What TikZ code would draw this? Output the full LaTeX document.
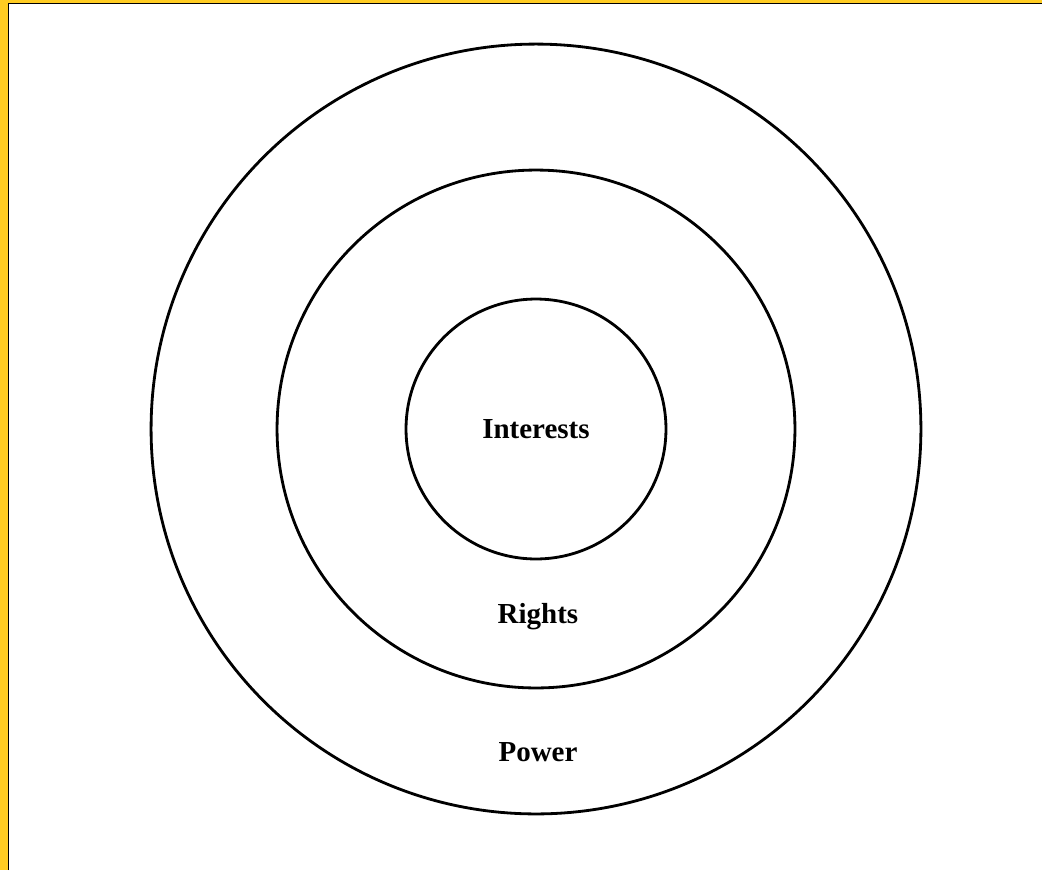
\documentclass[tikz,border=0pt]{standalone}
\usepackage{fontspec}
\setmainfont{Liberation Serif}
\usepackage{tikz}
\usetikzlibrary{positioning}
\usepackage{xcolor}
\definecolor{framegold}{HTML}{FFCC22}

\begin{document}
\begin{tikzpicture}[
        x=0.02cm, y=-0.02cm,
        ring/.style={
            circle,
            draw,
            line width=1.6pt,
            inner sep=0pt
        },
        label/.style={
            font=\fontsize{16.5}{18}\selectfont\bfseries
        }
    ]

        % Rama
        \useasboundingbox (0,0) rectangle (1042,870);
        \fill[framegold] (0,0) rectangle (8,870);
        \fill[framegold] (0,0) rectangle (1042,3);
        \draw[line width=0.6pt] (8.5,870) -- (8.5,3.5) -- (1042,3.5);

        % Koła
        \coordinate (centre) at (536,429);
        \node[ring, minimum size=15.4cm] (outer) at (centre) {};
        \node[ring, minimum size=10.36cm] (middle) at (centre) {};
        \node[ring, minimum size=5.2cm] (inner) at (centre) {};

        % Etykiety
        \node[label] (interests) at (centre) {Interests};
        \node[label] (rights) at (538,617) {Rights};
        \node[label] (power) at (538,752) {Power};

    \end{tikzpicture}
\end{document}
